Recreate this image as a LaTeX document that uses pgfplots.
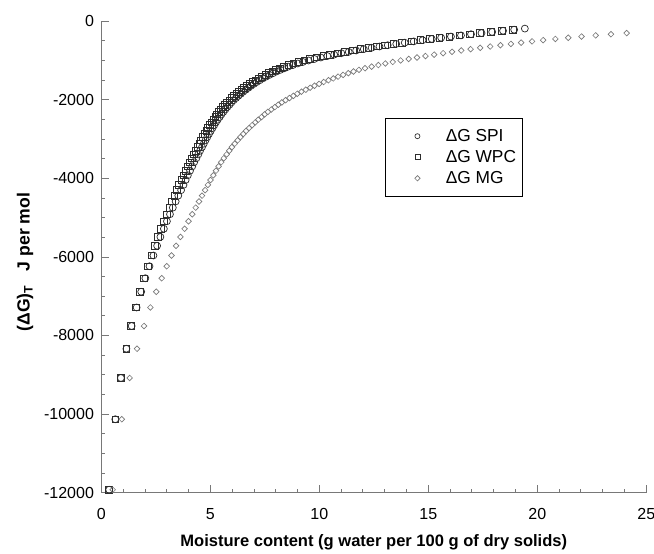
\documentclass[border=0pt]{standalone}
\usepackage{pgfplots}
\pgfplotsset{compat=1.18}
\usepackage{pgfplotstable}
\usepackage{fontspec}
\setmainfont{Liberation Sans}
\definecolor{axgray}{RGB}{120,120,120}
\definecolor{dk}{RGB}{45,45,45}
\definecolor{mgc}{RGB}{120,120,120}

\pgfplotstableread{
y spi wpc
-11927 0.36 0.36
-10132 0.64 0.64
-9082 0.90 0.90
-8337 1.15 1.15
-7759 1.39 1.37
-7287 1.62 1.58
-6887 1.83 1.78
-6542 2.02 1.96
-6237 2.21 2.13
-5964 2.39 2.29
-5717 2.56 2.45
-5491 2.71 2.59
-5284 2.87 2.74
-5092 3.01 2.87
-4914 3.15 3.00
-4746 3.28 3.12
-4589 3.41 3.24
-4441 3.53 3.35
-4301 3.66 3.47
-4168 3.77 3.57
-4042 3.87 3.67
-3922 3.97 3.77
-3806 4.07 3.87
-3696 4.17 3.97
-3590 4.26 4.06
-3489 4.36 4.16
-3391 4.45 4.25
-3297 4.53 4.33
-3206 4.62 4.42
-3118 4.70 4.50
-3033 4.78 4.58
-2951 4.86 4.66
-2871 4.94 4.74
-2794 5.02 4.82
-2719 5.10 4.90
-2646 5.18 4.98
-2575 5.26 5.06
-2506 5.34 5.14
-2439 5.43 5.23
-2373 5.51 5.31
-2309 5.60 5.40
-2247 5.69 5.49
-2186 5.78 5.58
-2126 5.88 5.68
-2068 5.97 5.77
-2011 6.07 5.87
-1956 6.18 5.98
-1901 6.29 6.09
-1848 6.40 6.20
-1795 6.51 6.31
-1744 6.63 6.43
-1694 6.75 6.55
-1644 6.87 6.67
-1596 7.00 6.80
-1548 7.13 6.93
-1502 7.27 7.07
-1456 7.41 7.21
-1411 7.56 7.36
-1367 7.72 7.52
-1323 7.88 7.68
-1280 8.04 7.84
-1238 8.22 8.02
-1197 8.40 8.20
-1156 8.58 8.38
-1116 8.79 8.59
-1076 9.01 8.81
-1037 9.25 9.05
-999 9.51 9.31
-961 9.78 9.58
-924 10.07 9.87
-887 10.37 10.18
-851 10.68 10.50
-815 11.01 10.83
-780 11.35 11.18
-745 11.69 11.53
-711 12.04 11.88
-677 12.40 12.25
-644 12.76 12.62
-611 13.14 13.00
-578 13.53 13.40
-546 13.92 13.80
-514 14.33 14.22
-483 14.74 14.64
-452 15.16 15.07
-421 15.59 15.51
-391 16.04 15.96
-361 16.50 16.43
-331 16.96 16.90
-302 17.44 17.38
-273 17.93 17.87
-244 18.43 18.37
-216 18.94 18.88
-188 19.43 nan
}\band

\pgfplotstableread{
y mg
-11927 0.52
-10132 0.94
-9082 1.30
-8337 1.64
-7759 1.96
-7287 2.25
-6887 2.52
-6542 2.77
-6237 3.00
-5964 3.22
-5717 3.43
-5491 3.63
-5284 3.82
-5092 4.00
-4914 4.17
-4746 4.33
-4589 4.48
-4441 4.62
-4301 4.76
-4168 4.89
-4042 5.01
-3922 5.14
-3806 5.26
-3696 5.38
-3590 5.50
-3489 5.62
-3391 5.75
-3297 5.87
-3206 5.99
-3118 6.12
-3033 6.25
-2951 6.38
-2871 6.51
-2794 6.64
-2719 6.78
-2646 6.92
-2575 7.06
-2506 7.20
-2439 7.35
-2373 7.49
-2309 7.64
-2247 7.80
-2186 7.96
-2126 8.12
-2068 8.28
-2011 8.45
-1956 8.63
-1901 8.81
-1848 8.99
-1795 9.18
-1744 9.38
-1694 9.58
-1644 9.78
-1596 9.99
-1548 10.20
-1502 10.42
-1456 10.64
-1411 10.86
-1367 11.09
-1323 11.33
-1280 11.57
-1238 11.82
-1197 12.10
-1156 12.40
-1116 12.71
-1076 13.03
-1037 13.37
-999 13.73
-961 14.10
-924 14.48
-887 14.87
-851 15.27
-815 15.68
-780 16.09
-745 16.51
-711 16.94
-677 17.38
-644 17.84
-611 18.31
-578 18.79
-546 19.26
-514 19.76
-483 20.27
-452 20.83
-421 21.42
-391 22.03
-361 22.68
-331 23.38
-302 24.10
}\mgtab

\begin{document}
\begin{tikzpicture}
\begin{axis}[
  name=ax,
  scale only axis,
  width=408.75pt, height=353.6pt,
  xmin=0, xmax=25, ymin=-12000, ymax=0,
  scaled x ticks=false, scaled y ticks=false,
  axis x line*=bottom, axis y line*=left,
  axis line style={axgray, line width=0.6pt},
  xtick={0,5,10,15,20,25},
  xticklabels={0,5,10,15,20,25},
  ytick={-12000,-10000,-8000,-6000,-4000,-2000,0},
  yticklabels={-12000,-10000,-8000,-6000,-4000,-2000,0},
  minor x tick num=4, minor y tick num=3,
  tick align=inside,
  major tick length=6pt, minor tick length=3pt,
  tick style={axgray, line width=0.6pt},
  ticklabel style={font=\fontsize{12}{14}\selectfont, text=black},
  xticklabel style={yshift=-8pt},
  yticklabel style={xshift=-2pt},
  clip=false,
  xlabel={Moisture content (g water per 100 g of dry solids)},
  ylabel={(ΔG)\textsubscript{T}\hspace{0.8em}J per mol},
  xlabel style={font=\bfseries\fontsize{12.4}{14}\selectfont, at={(axis description cs:0.5,-0.1152)}, anchor=base},
  ylabel style={font=\bfseries\fontsize{13.2}{15}\selectfont, at={(axis description cs:-0.116,0.489)}, anchor=south},
  legend style={at={(axis cs:13.0,-2466)}, anchor=north west, draw=black, line width=0.6pt,
    inner xsep=3pt, inner ysep=6pt, nodes={inner sep=2pt, text depth=0.15em},
    font=\fontsize{13}{15}\selectfont, row sep=1.2pt, column sep=7pt},
  legend cell align=left,
  legend image code/.code={\path (0pt,0pt) (33pt,0pt); \draw[#1] plot coordinates {(21pt,0pt)};},
]
\addplot[only marks, mark=o, mark size=2.6pt, dk, line width=0.55pt, forget plot] table[x=spi, y=y] {\band};
\addplot[only marks, mark=square, mark size=2.5pt, dk, line width=0.55pt, forget plot] table[x=wpc, y=y] {\band};
\addplot[only marks, mark=square, mark options={rotate=45}, mark size=1.5pt, mgc, line width=0.5pt, forget plot] table[x=mg, y=y] {\mgtab};
\addlegendimage{only marks, mark=o, mark size=1.9pt, dk, line width=0.5pt}
\addlegendentry{ΔG SPI}
\addlegendimage{only marks, mark=square, mark size=1.9pt, dk, line width=0.5pt}
\addlegendentry{ΔG WPC}
\addlegendimage{only marks, mark=square, mark options={rotate=45}, mark size=1.4pt, mgc, line width=0.5pt}
\addlegendentry{ΔG MG}
\end{axis}
\pgfresetboundingbox
\path[use as bounding box] ([xshift=-76pt,yshift=-46pt]ax.south west) rectangle ([xshift=5.8pt,yshift=15.9pt]ax.north east);
\end{tikzpicture}
\end{document}
